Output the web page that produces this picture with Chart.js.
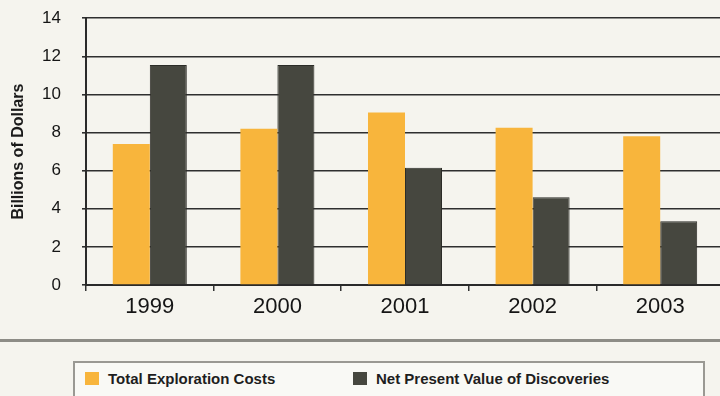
<!DOCTYPE html>
<html lang="en">
  <head>
    <meta charset="UTF-8" />
    <title>Exploration costs vs discoveries</title>
    <style>
      html, body { margin: 0; padding: 0; }
      body { width: 720px; height: 396px; overflow: hidden; background: #f5f4ee; position: relative; }
      .chart-wrap { position: absolute; left: 0; top: -13px; width: 740px; height: 343px; }
      .sep { position: absolute; left: 0; top: 339px; width: 720px; height: 3px; background: #8d8c86; }
      .legend { position: absolute; left: 73px; top: 361px; width: 628px; height: 60px;
                border: 2px solid #9a9993; background: #f9f9f5; }
      .item { position: absolute; top: 8px; font-family: "Liberation Sans Narrow", "Liberation Sans", Arial, sans-serif;
              font-weight: bold; font-size: 15px; color: #1e1e1e; line-height: 16px; }
      .item span.box { display: inline-block; width: 14px; height: 13px; vertical-align: -1px; margin-right: 9px; }
    </style>
  </head>
  <body>
    <div class="chart-wrap"><canvas id="myChart"></canvas></div>
    <div class="sep"></div>
    <div class="legend" id="legend"></div>

    <script src="https://cdn.jsdelivr.net/npm/chart.js"></script>
    <script>
      const years = ["1999", "2000", "2001", "2002", "2003"];
      const explorationCosts = [7.4, 8.2, 9.05, 8.25, 7.8];
      const netPresentValue = [11.55, 11.55, 6.15, 4.6, 3.35];
      const seriesNames = ["Total Exploration Costs", "Net Present Value of Discoveries"];
      const yTicks = [0, 2, 4, 6, 8, 10, 12, 14];

      const orange = "#f8b53c";
      const dark = "#46473f";

      const ctx = document.getElementById("myChart");

      const chart = new Chart(ctx, {
        type: "bar",
        data: {
          labels: years,
          datasets: [
            {
              label: seriesNames[0],
              data: explorationCosts,
              backgroundColor: orange,
              borderWidth: 0,
              barPercentage: 1,
              categoryPercentage: 0.58,
            },
            {
              label: seriesNames[1],
              data: netPresentValue,
              backgroundColor: dark,
              borderColor: "#2c2d28",
              borderWidth: 1,
              borderSkipped: "bottom",
              barPercentage: 1,
              categoryPercentage: 0.58,
            },
          ],
        },
        options: {
          responsive: true,
          maintainAspectRatio: false,
          animation: false,
          layout: { padding: { top: 5, right: 16, left: 0, bottom: 0 } },
          plugins: {
            legend: { display: false },
            tooltip: { enabled: false },
          },
          scales: {
            x: {
              grid: { drawOnChartArea: false, color: "#333", tickLength: 6, lineWidth: 1.5 },
              border: { color: "#2a2a2a", width: 2 },
              ticks: { color: "#151515", padding: 3, font: { family: "Liberation Sans", size: 22 } },
              afterFit: (s) => { s.height = 45; },
            },
            y: {
              min: 0,
              max: 14,
              afterBuildTicks: (s) => { s.ticks = yTicks.map((v) => ({ value: v })); },
              grid: { color: "#2f2f2f", lineWidth: 1.6, tickLength: 4 },
              border: { color: "#2a2a2a", width: 2 },
              ticks: { color: "#151515", padding: 21, font: { family: "Liberation Sans", size: 17 } },
              title: {
                display: true,
                text: "Billions of Dollars",
                color: "#1a1a1a",
                padding: { top: 9, bottom: 0 },
                font: { family: "Liberation Sans", size: 16, weight: "bold" },
              },
              afterFit: (s) => { s.width = 86; },
            },
          },
        },
      });

      // legend below the chart
      const legend = document.getElementById("legend");
      const legendLeft = [10, 278];
      seriesNames.forEach((name, i) => {
        const el = document.createElement("div");
        el.className = "item";
        el.style.left = legendLeft[i] + "px";
        el.innerHTML = '<span class="box"></span>' + name;
        el.querySelector(".box").style.background = i === 0 ? orange : dark;
        legend.appendChild(el);
      });
    </script>
  </body>
</html>
